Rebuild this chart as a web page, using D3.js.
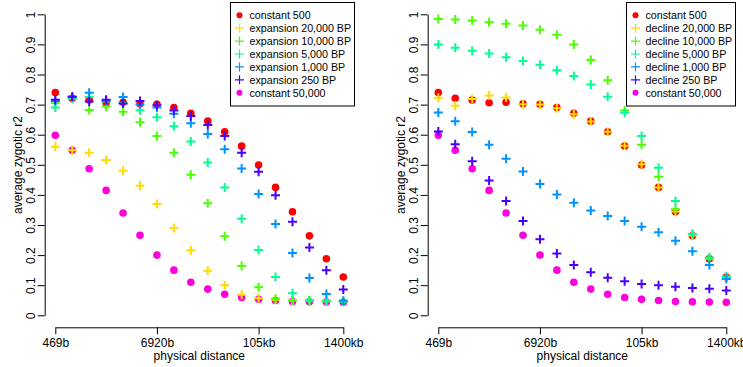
<!DOCTYPE html>
<meta charset="utf-8">
<script src="https://d3js.org/d3.v7.min.js"></script>
<body style="margin:0;background:#fff">
<div id="canvas"></div>
<script>

// x positions are bins of physical distance, labelled at a few of them
var tickIdx = [0, 6, 12, 17];
var tickLabels = ["469b", "6920b", "105kb", "1400kb"];
var yTicks = [0, 0.1, 0.2, 0.3, 0.4, 0.5, 0.6, 0.7, 0.8, 0.9, 1];

var constant500   = [0.740,0.721,0.715,0.706,0.708,0.703,0.701,0.690,0.671,0.645,0.610,0.562,0.499,0.425,0.344,0.264,0.188,0.127];
var constant50000 = [0.598,0.548,0.487,0.415,0.340,0.266,0.200,0.150,0.110,0.087,0.070,0.059,0.053,0.049,0.046,0.045,0.044,0.043];

var exp20000 = [0.560,0.548,0.540,0.516,0.480,0.430,0.370,0.290,0.216,0.148,0.100,0.068,0.057,0.052,0.050,0.049,0.048,0.047];
var exp10000 = [0.705,0.720,0.682,0.694,0.676,0.641,0.596,0.540,0.467,0.372,0.263,0.164,0.093,0.055,0.049,0.048,0.047,0.046];
var exp5000  = [0.690,0.720,0.725,0.710,0.705,0.681,0.658,0.628,0.577,0.508,0.425,0.321,0.217,0.127,0.073,0.050,0.047,0.046];
var exp1000  = [0.712,0.726,0.739,0.712,0.725,0.700,0.690,0.670,0.638,0.602,0.552,0.488,0.403,0.303,0.207,0.124,0.071,0.048];
var exp250   = [0.716,0.726,0.710,0.716,0.704,0.712,0.698,0.680,0.662,0.632,0.596,0.540,0.477,0.399,0.311,0.225,0.150,0.086];

var dec20000 = [0.723,0.696,0.719,0.730,0.724,0.701,0.700,0.688,0.668,0.644,0.610,0.563,0.502,0.425,0.345,0.265,0.188,0.125];
var dec10000 = [0.984,0.983,0.979,0.974,0.969,0.963,0.949,0.932,0.900,0.848,0.781,0.680,0.567,0.460,0.352,0.269,0.190,0.127];
var dec5000  = [0.900,0.889,0.879,0.870,0.857,0.845,0.832,0.814,0.795,0.767,0.726,0.673,0.596,0.490,0.380,0.270,0.192,0.130];
var dec1000  = [0.674,0.645,0.609,0.567,0.520,0.478,0.436,0.401,0.374,0.348,0.330,0.313,0.294,0.276,0.248,0.213,0.167,0.121];
var dec250   = [0.611,0.568,0.512,0.448,0.380,0.313,0.253,0.205,0.167,0.143,0.125,0.113,0.104,0.100,0.095,0.091,0.088,0.082];

var colors = ["#FF0000","#FFDB00","#49FF00","#00FF92","#0092FF","#4900FF","#FF00DB"];
var leftNames  = ["constant 500","expansion 20,000 BP","expansion 10,000 BP","expansion 5,000 BP","expansion 1,000 BP","expansion 250 BP","constant 50,000"];
var rightNames = ["constant 500","decline 20,000 BP","decline 10,000 BP","decline 5,000 BP","decline 1,000 BP","decline 250 BP","constant 50,000"];
var shapes = ["dot","plus","plus","plus","plus","plus","dot"];

var width = 743, height = 367;
var font = "'Liberation Sans', Arial, sans-serif";

var svg = d3.select('#canvas')
	.append("svg")
	.attr("width", width)
	.attr("height", height)
	.style("font-family", font);

function drawPanel(dx, series, names, legendBox) {
	var g = svg.append("g").attr("transform", "translate(" + dx + ",0)");

	var x = d3.scaleLinear().domain([0, 17]).range([55.3, 343.3]);
	var y = d3.scaleLinear().domain([0, 1]).range([315.3, 14.3]);

	// y axis (R style, labels turned)
	var yAxis = g.append("g")
		.attr("transform", "translate(44.7,0)")
		.call(d3.axisLeft(y).tickValues(yTicks).tickFormat(d3.format("")).tickSize(7).tickSizeOuter(0));
	yAxis.selectAll("text")
		.attr("transform", "rotate(-90)")
		.attr("x", 0).attr("y", -9.5).attr("dy", 0)
		.style("text-anchor", "middle")
		.style("font-size", "12px").style("font-family", font);

	// x axis
	var xAxis = g.append("g")
		.attr("transform", "translate(0,327.3)")
		.call(d3.axisBottom(x).tickValues(tickIdx).tickFormat(function(d, i){ return tickLabels[i]; })
			.tickSize(7).tickPadding(4).tickSizeOuter(0));
	xAxis.selectAll("text").style("font-size", "12px").style("font-family", font);
	g.selectAll(".domain, .tick line").attr("stroke", "#000");

	g.append("text")
		.text("physical distance")
		.attr("x", 199.3).attr("y", 360)
		.attr("text-anchor", "middle")
		.style("font-size", "12px");
	g.append("text")
		.text("average zygotic r2")
		.attr("transform", "translate(22,165) rotate(-90)")
		.attr("text-anchor", "middle")
		.style("font-size", "12px");

	// points: dots first, then the + series in order
	var order = [0, 6, 1, 2, 3, 4, 5];
	order.forEach(function(k){
		var s = g.append("g").selectAll("g")
			.data(series[k])
			.enter();
		if (shapes[k] == "dot") {
			s.append("circle")
				.attr("cx", function(d,i){ return x(i); })
				.attr("cy", function(d){ return y(d); })
				.attr("r", 3.8)
				.attr("fill", colors[k]);
		} else {
			s.append("path")
				.attr("d", function(d,i){ var px = x(i), py = y(d);
					return "M" + (px-4.5) + "," + py + "H" + (px+4.5) + "M" + px + "," + (py-4.5) + "V" + (py+4.5); })
				.attr("stroke", colors[k])
				.attr("stroke-width", 2)
				.attr("fill", "none");
		}
	});

	// legend
	var lg = g.append("g");
	lg.append("rect")
		.attr("x", legendBox[0]).attr("y", 2.5)
		.attr("width", legendBox[1]).attr("height", 103.5)
		.attr("fill", "#fff").attr("stroke", "#000");
	names.forEach(function(n, k){
		var ly = 15.3 + k * 12.9;
		var sx = legendBox[0] + 9;
		if (shapes[k] == "dot") {
			lg.append("circle").attr("cx", sx).attr("cy", ly).attr("r", 3).attr("fill", colors[k]);
		} else {
			lg.append("path")
				.attr("d", "M" + (sx-4.5) + "," + ly + "H" + (sx+4.5) + "M" + sx + "," + (ly-4.5) + "V" + (ly+4.5))
				.attr("stroke", colors[k]).attr("stroke-width", 1.2);
		}
		lg.append("text")
			.text(n)
			.attr("x", legendBox[0] + 19).attr("y", ly)
			.attr("dy", "0.36em")
			.style("font-size", "10.7px")
			.attr("fill", "#000");
	});
}

drawPanel(0,
	[constant500, exp20000, exp10000, exp5000, exp1000, exp250, constant50000],
	leftNames, [230.5, 124]);
drawPanel(383,
	[constant500, dec20000, dec10000, dec5000, dec1000, dec250, constant50000],
	rightNames, [243.5, 109]);
</script>
</body>
